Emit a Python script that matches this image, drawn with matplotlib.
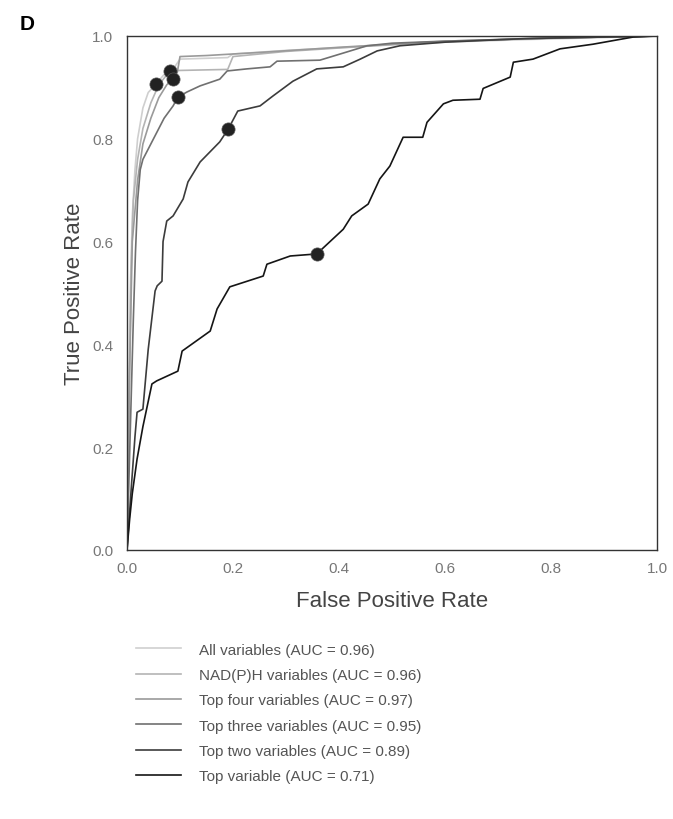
import matplotlib
matplotlib.use("Agg")
import matplotlib.pyplot as plt

plt.rcParams['font.family'] = ['Liberation Sans', 'DejaVu Sans']

labels = ["All variables (AUC = 0.96)", "NAD(P)H variables (AUC = 0.96)",
          "Top four variables (AUC = 0.97)", "Top three variables (AUC = 0.95)",
          "Top two variables (AUC = 0.89)", "Top variable (AUC = 0.71)"]

all_fpr = [0, 0.003, 0.006, 0.01, 0.015, 0.02, 0.03, 0.04, 0.055, 0.07, 0.09, 0.1, 0.19, 0.2, 0.3, 0.45, 0.6, 0.75, 0.9, 1.0]
all_tpr = [0, 0.25, 0.5, 0.65, 0.74, 0.8, 0.86, 0.89, 0.907, 0.925, 0.94, 0.955, 0.958, 0.965, 0.972, 0.98, 0.988, 0.993, 0.997, 1.0]

nad_fpr = [0, 0.004, 0.008, 0.012, 0.02, 0.03, 0.045, 0.06, 0.081, 0.1, 0.19, 0.2, 0.3, 0.45, 0.6, 0.8, 1.0]
nad_tpr = [0, 0.3, 0.55, 0.68, 0.76, 0.82, 0.87, 0.905, 0.932, 0.933, 0.935, 0.96, 0.97, 0.98, 0.99, 0.996, 1.0]

four_fpr = [0, 0.005, 0.01, 0.02, 0.03, 0.045, 0.06, 0.075, 0.087, 0.095, 0.1, 0.15, 0.25, 0.4, 0.55, 0.7, 0.85, 1.0]
four_tpr = [0, 0.35, 0.6, 0.72, 0.79, 0.84, 0.88, 0.905, 0.917, 0.93, 0.96, 0.962, 0.968, 0.978, 0.987, 0.993, 0.997, 1.0]

three_fpr = [0, 0.004, 0.008, 0.012, 0.016, 0.02, 0.025, 0.03, 0.045, 0.06, 0.07, 0.087, 0.096, 0.113, 0.138, 0.175, 0.189,
             0.226, 0.27, 0.283, 0.364, 0.415, 0.453, 0.5, 0.6, 0.8, 1.0]
three_tpr = [0, 0.15, 0.3, 0.45, 0.58, 0.68, 0.74, 0.76, 0.79, 0.82, 0.84, 0.864, 0.881, 0.891, 0.903, 0.916, 0.932,
             0.936, 0.94, 0.951, 0.953, 0.969, 0.981, 0.986, 0.99, 0.996, 1.0]

two_fpr = [0, 0.008, 0.015, 0.019, 0.03, 0.04, 0.053, 0.057, 0.066, 0.068, 0.075, 0.087, 0.106, 0.115, 0.138, 0.175, 0.191,
           0.209, 0.251, 0.275, 0.313, 0.358, 0.408, 0.44, 0.472, 0.515, 0.6, 0.75, 0.9, 1.0]
two_tpr = [0, 0.12, 0.22, 0.268, 0.274, 0.39, 0.504, 0.514, 0.523, 0.6, 0.64, 0.65, 0.683, 0.716, 0.755, 0.794, 0.819,
           0.854, 0.864, 0.883, 0.912, 0.936, 0.94, 0.955, 0.971, 0.981, 0.988, 0.995, 0.998, 1.0]

one_fpr = [0, 0.005, 0.01, 0.019, 0.03, 0.047, 0.056, 0.096, 0.104, 0.157, 0.17, 0.194, 0.257, 0.264, 0.308, 0.358, 0.408,
           0.424, 0.455, 0.477, 0.496, 0.521, 0.558, 0.566, 0.597, 0.615, 0.666, 0.672, 0.723, 0.729, 0.766, 0.817, 0.879,
           0.955, 1.0]
one_tpr = [0, 0.06, 0.11, 0.177, 0.24, 0.323, 0.329, 0.348, 0.387, 0.426, 0.469, 0.512, 0.533, 0.556, 0.572, 0.576, 0.624,
           0.65, 0.673, 0.722, 0.747, 0.803, 0.803, 0.832, 0.868, 0.875, 0.877, 0.898, 0.92, 0.949, 0.955, 0.975, 0.984,
           0.998, 1.0]

cut_fpr = [0.055, 0.081, 0.087, 0.096, 0.191, 0.358]
cut_tpr = [0.907, 0.932, 0.917, 0.881, 0.819, 0.576]

curves = [(all_fpr, all_tpr), (nad_fpr, nad_tpr), (four_fpr, four_tpr),
          (three_fpr, three_tpr), (two_fpr, two_tpr), (one_fpr, one_tpr)]
colors = ["#cfcfcf", "#b4b4b4", "#9a9a9a", "#707070", "#3c3c3c", "#151515"]

fig = plt.figure(figsize=(6.73, 8.2), dpi=100)
ax = fig.add_axes([127/673, 1-551/820, 530/673, 514/820])

handles = []
for (fx, ty), c, lab in zip(curves, colors, labels):
    h, = ax.plot(fx, ty, color=c, lw=1.2, label=lab)
    handles.append(h)

ax.scatter(cut_fpr, cut_tpr, s=90, color="#222222", zorder=5, edgecolors="#555555", linewidths=0.5)

ax.set_xlim(0, 1)
ax.set_ylim(0, 1)
ticks = [0.0, 0.2, 0.4, 0.6, 0.8, 1.0]
ax.set_xticks(ticks)
ax.set_yticks(ticks)
ax.set_xticklabels([f"{t:.1f}" for t in ticks])
ax.set_yticklabels([f"{t:.1f}" for t in ticks])
ax.tick_params(length=0, labelsize=11, labelcolor="#777777")
ax.tick_params(axis="y", pad=10)
ax.tick_params(axis="x", pad=8)
for s in ax.spines.values():
    s.set_color("#333333")
    s.set_linewidth(1.0)

ax.set_xlabel("False Positive Rate", fontsize=16, color="#444444", labelpad=11)
ax.set_ylabel("True Positive Rate", fontsize=16, color="#444444", labelpad=5)

fig.text(20/673, 1-25/820, "D", fontsize=15, fontweight="bold", ha="left", va="center")

fig.legend(handles=handles, labels=labels, loc="upper left",
           bbox_to_anchor=(122/673, 1-630/820), frameon=False, fontsize=11,
           handlelength=2.95, handletextpad=1.2, labelspacing=0.74, labelcolor="#555555")

fig.savefig("out.png", dpi=100)
